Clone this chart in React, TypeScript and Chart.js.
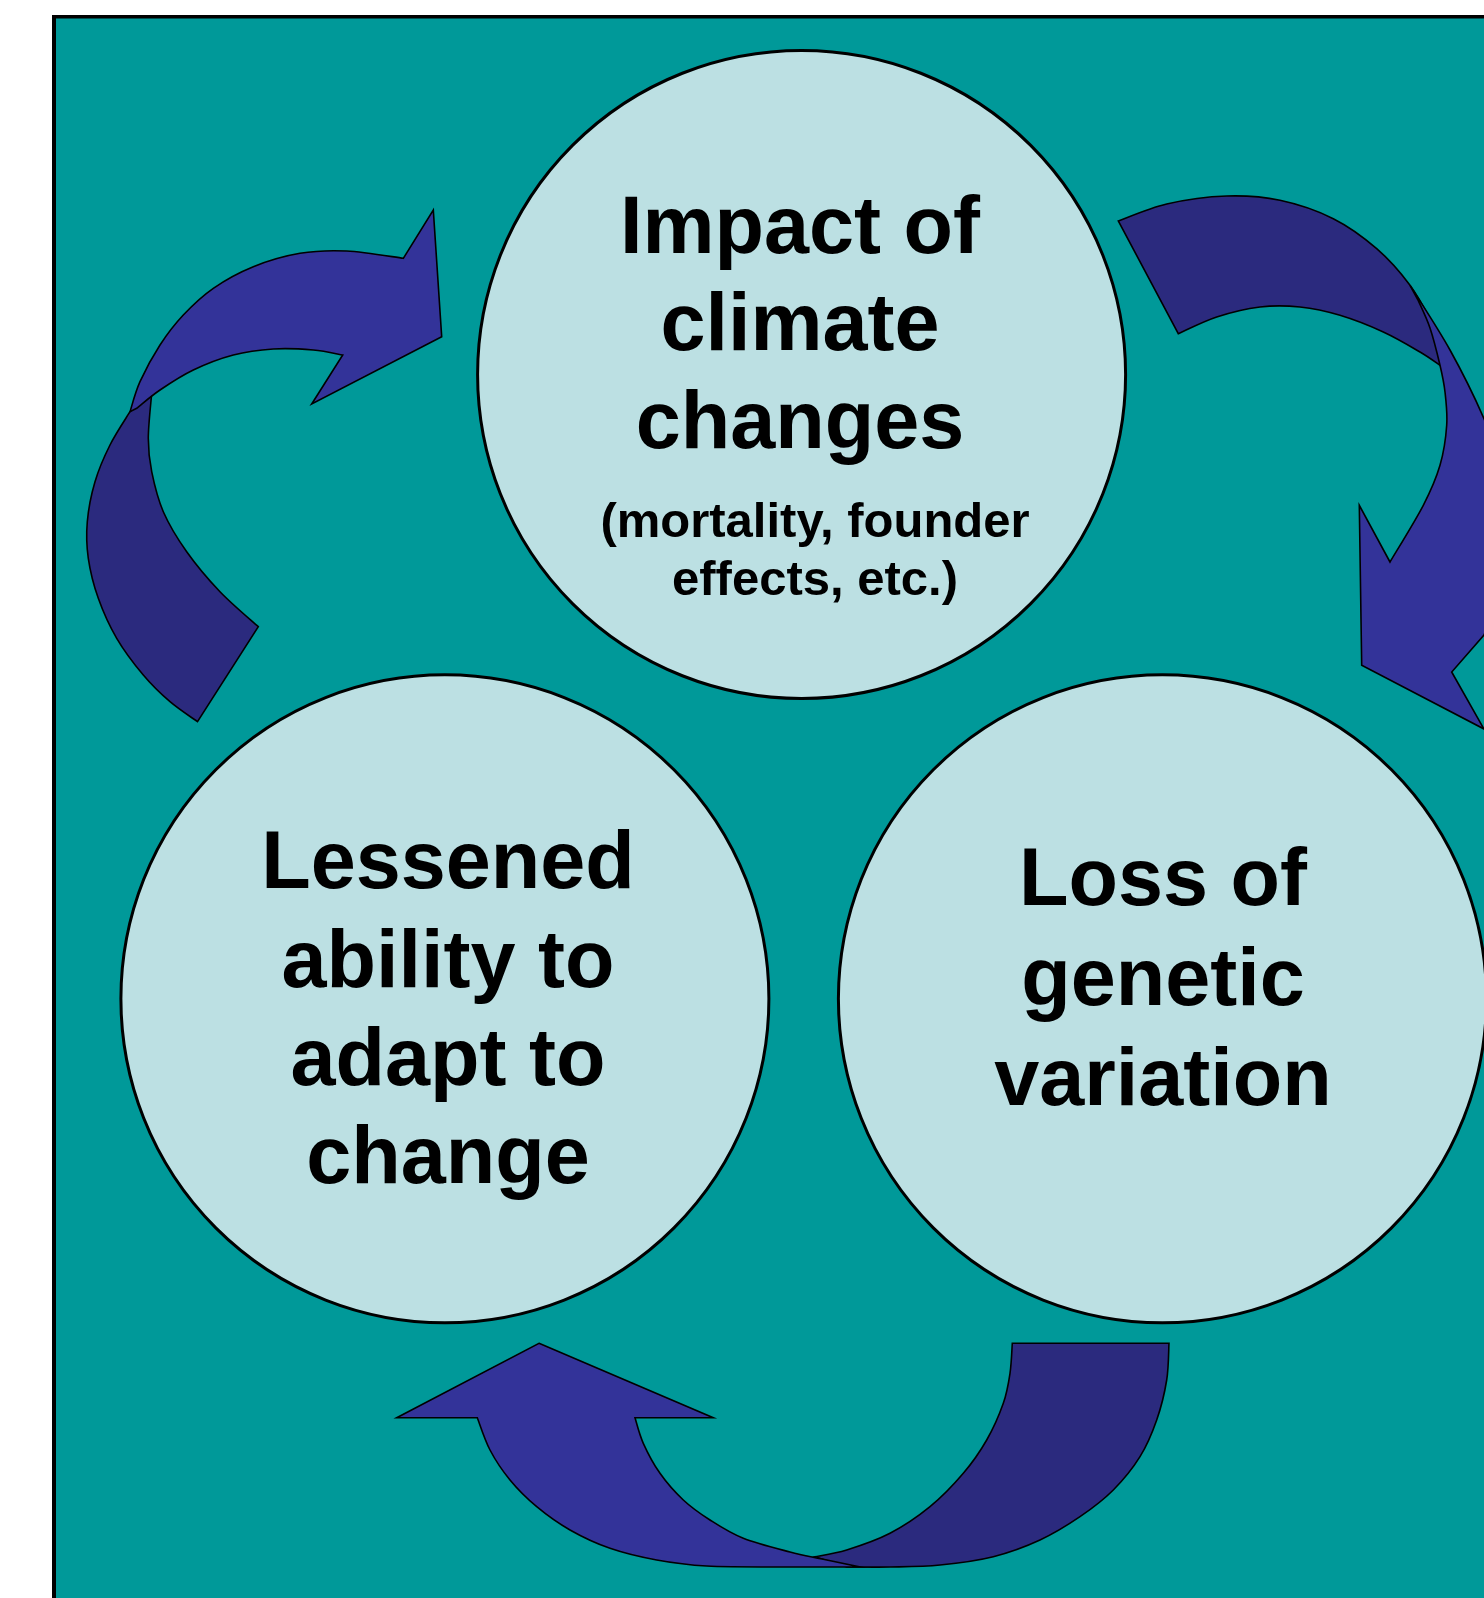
import React, { useEffect, useRef } from 'react';
import { Chart, registerables } from 'chart.js';

Chart.register(...registerables);

// ---- diagram data ----
const nodeNames = ['Impact of climate changes', 'Loss of genetic variation', 'Lessened ability to adapt to change'];
const nodeX = [801.6, 1162.4, 444.9];
const nodeY = [374.5, 998.8, 998.8];
const nodeR = [324, 324, 324];

const nodeTitleLines = [
  ['Impact of', 'climate', 'changes'],
  ['Loss of', 'genetic', 'variation'],
  ['Lessened', 'ability to', 'adapt to', 'change'],
];
const nodeTitleX = [800, 1163, 448];
const nodeTitleBaselines = [
  [252.5, 350, 447.6],
  [905, 1005, 1105],
  [888.3, 986.7, 1085, 1183.3],
];
const nodeSubLines = [['(mortality, founder', 'effects, etc.)'], [], []];
const nodeSubX = [815, 0, 0];
const nodeSubBaselines = [[536.5, 595], [], []];

type Pt = [number, number];
type Run = Pt[];

// arrow from "Lessened ability" up to "Impact"
const arrowLeftBack: Run[] = [
  [[130, 411.7], [110, 445], [95, 481.7], [87.3, 521.7], [88.3, 558.3], [98.3, 598.3], [116.7, 638.3], [143.3, 675], [170, 701.7], [197.5, 721.7]],
  [[258.3, 626.7], [220, 591.7], [186.7, 551.7], [163.3, 511.7], [151.7, 471.7], [148.3, 438.3], [151.7, 393.3]],
];
const arrowLeftFront: Run[] = [
  [[342.7, 355]],
  [[311.7, 404]],
  [[441.7, 336.7]],
  [[433.3, 210]],
  [[403.3, 258.3], [346.7, 251], [300, 253.3], [253.3, 266.7], [213.3, 288.3], [183.3, 315], [160, 345], [140, 381.7], [130, 411.7]],
  [[136.7, 408.3], [160, 390], [193.3, 370], [233.3, 355], [273.3, 349], [313.3, 350], [342.7, 355]],
];

// arrow from "Impact" down to "Loss of genetic variation"
const arrowRightBack: Run[] = [
  [[1118.3, 221], [1166.7, 204], [1226.7, 196], [1280, 200.3], [1333.3, 218.7], [1376.7, 248.7], [1410, 285.3], [1433.3, 325.3], [1446.7, 355]],
  [[1440, 365.3], [1420, 352], [1383.3, 332], [1340, 315.3], [1300, 307], [1260, 307], [1216.7, 317], [1178.3, 333.7]],
];
const arrowRightFront: Run[] = [
  [[1410, 285.3], [1450, 350], [1484, 418.7], [1502, 470], [1510, 530], [1503, 590], [1484, 635]],
  [[1451.7, 672]],
  [[1484, 729]],
  [[1361.7, 665.3]],
  [[1359.3, 505.3]],
  [[1390, 562], [1423.3, 505.3], [1440, 465.3], [1446.7, 425.3], [1445, 392], [1440, 365.3], [1430, 328], [1418, 300]],
];

// arrow from "Loss of genetic variation" to "Lessened ability"
const arrowBottomBack: Run[] = [
  [[1012.3, 1343.3]],
  [[1169, 1343.3], [1166.7, 1380], [1156.7, 1420], [1140, 1456.7], [1113.3, 1490], [1080, 1516.7], [1040, 1540], [993.3, 1556.7], [940, 1565], [890, 1567], [846.7, 1567]],
  [[815, 1556.7], [846.7, 1550], [890, 1533.3], [930, 1506.7], [963.3, 1473.3], [986.7, 1440], [1003.3, 1403.3], [1010, 1373.3], [1012.3, 1343.3]],
];
const arrowBottomFront: Run[] = [
  [[539, 1343.3]],
  [[713.3, 1417.7]],
  [[635, 1417.7], [643.3, 1443.3], [660, 1473.3], [683.3, 1500], [710, 1520], [743.3, 1538.3], [790, 1552], [822, 1559], [860, 1567]],
  [[790, 1567], [706.7, 1566], [656.7, 1560], [610, 1548.3], [570, 1530], [536.7, 1506.7], [510, 1480], [490, 1450], [477.3, 1417.7]],
  [[396.7, 1417.7]],
];

const arrowShapes: { runs: Run[]; color: string }[] = [
  { runs: arrowLeftBack, color: '#2B2A7E' },
  { runs: arrowLeftFront, color: '#333399' },
  { runs: arrowRightBack, color: '#2B2A7E' },
  { runs: arrowRightFront, color: '#333399' },
  { runs: arrowBottomBack, color: '#2B2A7E' },
  { runs: arrowBottomFront, color: '#333399' },
];

const W = 1484;
const H = 1598;
const TEAL = '#009999';
const CIRCLE_FILL = '#BCE0E3';
const FONT = '"Liberation Sans", Arial, Helvetica, sans-serif';

function tracePath(ctx: CanvasRenderingContext2D, runs: Run[], toPx: (p: Pt) => { x: number; y: number }) {
  ctx.beginPath();
  runs.forEach((run, i) => {
    const pts = run.map(toPx);
    if (i === 0) ctx.moveTo(pts[0].x, pts[0].y);
    else ctx.lineTo(pts[0].x, pts[0].y);
    for (let k = 0; k < pts.length - 1; k++) {
      const p0 = pts[k - 1] || pts[k];
      const p1 = pts[k];
      const p2 = pts[k + 1];
      const p3 = pts[k + 2] || pts[k + 1];
      ctx.bezierCurveTo(
        p1.x + (p2.x - p0.x) / 6,
        p1.y + (p2.y - p0.y) / 6,
        p2.x - (p3.x - p1.x) / 6,
        p2.y - (p3.y - p1.y) / 6,
        p2.x,
        p2.y
      );
    }
  });
  ctx.closePath();
}

const diagramPlugin = {
  id: 'diagram',
  beforeDraw(chart: any) {
    const { ctx, scales } = chart;
    const xs = scales.x;
    const ys = scales.y;
    ctx.save();
    ctx.fillStyle = '#ffffff';
    ctx.fillRect(0, 0, chart.width, chart.height);
    const bx = xs.getPixelForValue(52);
    const by = ys.getPixelForValue(15);
    ctx.fillStyle = '#000000';
    ctx.fillRect(bx, by, chart.width - bx, chart.height - by);
    const tx = xs.getPixelForValue(56);
    const ty = ys.getPixelForValue(18.5);
    ctx.fillStyle = TEAL;
    ctx.fillRect(tx, ty, chart.width - tx, chart.height - ty);
    ctx.restore();
  },
  beforeDatasetsDraw(chart: any) {
    const { ctx, scales } = chart;
    const toPx = (p: Pt) => ({ x: scales.x.getPixelForValue(p[0]), y: scales.y.getPixelForValue(p[1]) });
    ctx.save();
    arrowShapes.forEach((s) => {
      tracePath(ctx, s.runs, toPx);
      ctx.fillStyle = s.color;
      ctx.fill();
      ctx.lineWidth = 1.6;
      ctx.lineJoin = 'miter';
      ctx.strokeStyle = '#000000';
      ctx.stroke();
    });
    ctx.restore();
  },
  afterDatasetsDraw(chart: any) {
    const { ctx, scales } = chart;
    ctx.save();
    ctx.fillStyle = '#000000';
    ctx.textAlign = 'center';
    ctx.textBaseline = 'alphabetic';
    nodeTitleLines.forEach((lines, i) => {
      ctx.font = `bold 81px ${FONT}`;
      lines.forEach((line, j) => {
        ctx.fillText(line, scales.x.getPixelForValue(nodeTitleX[i]), scales.y.getPixelForValue(nodeTitleBaselines[i][j]));
      });
      ctx.font = `bold 49px ${FONT}`;
      nodeSubLines[i].forEach((line, j) => {
        ctx.fillText(line, scales.x.getPixelForValue(nodeSubX[i]), scales.y.getPixelForValue(nodeSubBaselines[i][j]));
      });
    });
    ctx.restore();
  },
};

export default function App() {
  const ref = useRef<HTMLCanvasElement | null>(null);
  useEffect(() => {
    if (!ref.current) return;
    const chart = new Chart(ref.current, {
      type: 'bubble',
      data: {
        labels: nodeNames,
        datasets: [
          {
            label: 'nodes',
            data: nodeNames.map((_, i) => ({ x: nodeX[i], y: nodeY[i], r: nodeR[i] })),
            backgroundColor: CIRCLE_FILL,
            borderColor: '#000000',
            borderWidth: 3,
            hoverBorderWidth: 3,
            clip: false as any,
          },
        ],
      },
      options: {
        animation: false,
        responsive: false,
        events: [],
        layout: { padding: 0, autoPadding: false },
        plugins: { legend: { display: false }, tooltip: { enabled: false } },
        scales: {
          x: { type: 'linear', min: 0, max: W, display: false },
          y: { type: 'linear', min: 0, max: H, reverse: true, display: false },
        },
      },
      plugins: [diagramPlugin],
    });
    return () => chart.destroy();
  }, []);
  return (
    <div style={{ position: 'absolute', left: 0, top: 0, width: W, height: H }}>
      <canvas ref={ref} width={W} height={H} style={{ display: 'block', width: W, height: H }} />
    </div>
  );
}
